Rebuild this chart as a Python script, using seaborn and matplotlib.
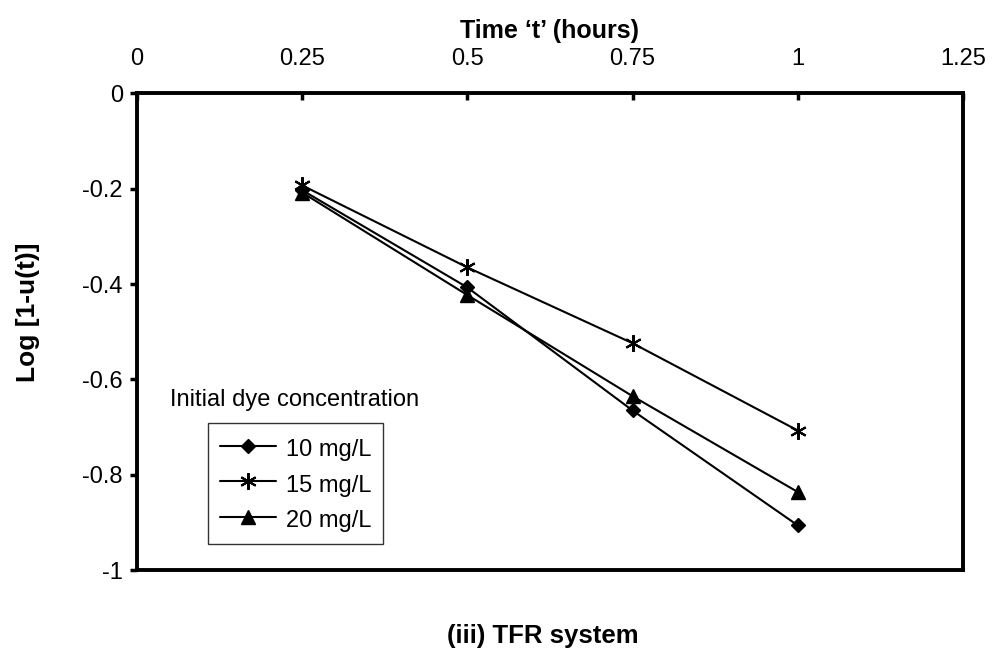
import matplotlib
matplotlib.use("Agg")
import matplotlib.pyplot as plt
import seaborn as sns
import pandas as pd

# Reaction time (hours) and log[1-u(t)] for each initial dye concentration
time_h = [0.25, 0.5, 0.75, 1.0]
conc_labels = ["10 mg/L", "15 mg/L", "20 mg/L"]
log_10 = [-0.203, -0.407, -0.665, -0.906]
log_15 = [-0.193, -0.365, -0.524, -0.707]
log_20 = [-0.208, -0.423, -0.635, -0.836]

x_ticks = [0, 0.25, 0.5, 0.75, 1, 1.25]
x_tick_labels = ["0", "0.25", "0.5", "0.75", "1", "1.25"]
y_ticks = [0, -0.2, -0.4, -0.6, -0.8, -1]
y_tick_labels = ["0", "-0.2", "-0.4", "-0.6", "-0.8", "-1"]

df = pd.DataFrame({
    "t": time_h * 3,
    "val": log_10 + log_15 + log_20,
    "conc": [c for c in conc_labels for _ in time_h],
})

sns.set_theme(style="white")
plt.rcParams["font.family"] = ["Liberation Sans", "DejaVu Sans"]
plt.rcParams["text.color"] = "black"
plt.rcParams["axes.labelcolor"] = "black"
plt.rcParams["xtick.color"] = "black"
plt.rcParams["ytick.color"] = "black"

fig = plt.figure(figsize=(9.99, 6.48), dpi=100)
ax = fig.add_axes([0.137, 0.12, 0.827, 0.736])

marker_styles = {
    "10 mg/L": dict(marker="D", markersize=7.5, markeredgewidth=1.0),
    "15 mg/L": dict(marker=(6, 2, 0), markersize=12, markeredgewidth=1.5),
    "20 mg/L": dict(marker="^", markersize=9.5, markeredgewidth=1.0),
}
for conc in conc_labels:
    sub = df[df["conc"] == conc]
    sns.lineplot(data=sub, x="t", y="val", color="black", linewidth=1.5,
                 markeredgecolor="black", markerfacecolor="black",
                 label=conc, ax=ax, **marker_styles[conc])

ax.set_xlim(0, 1.25)
ax.set_ylim(-1, 0)
ax.xaxis.tick_top()
ax.xaxis.set_label_position("top")
ax.set_xticks(x_ticks)
ax.set_xticklabels(x_tick_labels, fontsize=17)
ax.set_yticks(y_ticks)
ax.set_yticklabels(y_tick_labels, fontsize=17)
ax.tick_params(axis="x", direction="in", length=5, width=2.5, pad=17, top=True, bottom=False)
ax.tick_params(axis="y", direction="out", length=5, width=2.5, pad=5, left=True)
for s in ax.spines.values():
    s.set_linewidth(2.8)
    s.set_color("black")

ax.set_xlabel("Time \u2018t\u2019 (hours)", fontsize=18, fontweight="bold", labelpad=7)
ax.set_ylabel("Log [1-u(t)]", fontsize=19, fontweight="bold")
ax.yaxis.set_label_coords(-0.117, 0.54)

ax.text(0.040, 0.356, "Initial dye concentration", transform=ax.transAxes,
        fontsize=17, ha="left", va="center")
handles, labels = ax.get_legend_handles_labels()
leg = ax.legend(handles, labels, loc="upper left", bbox_to_anchor=(0.086, 0.308),
                fontsize=17, frameon=True, fancybox=False, edgecolor="black",
                handlelength=2.4, handleheight=1.3, handletextpad=0.4,
                borderpad=0.5, labelspacing=0.42, borderaxespad=0)
leg.get_frame().set_linewidth(1.0)

fig.text(0.543, 0.0185, "(iii) TFR system", fontsize=18.5, fontweight="bold",
         ha="center", va="center")

fig.savefig("out.png", dpi=100)
